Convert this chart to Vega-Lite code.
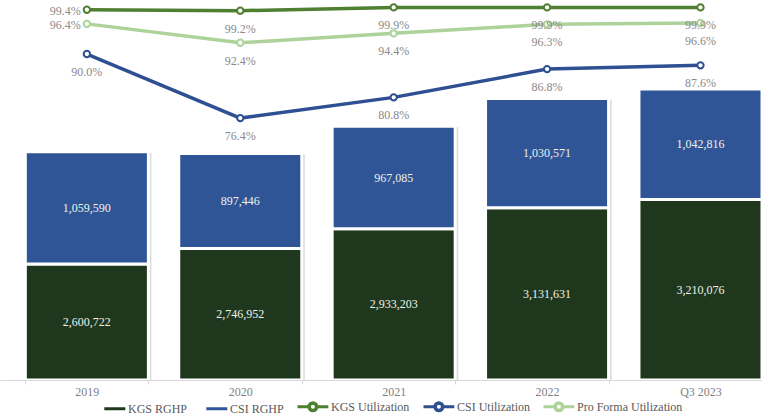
{
  "$schema": "https://vega.github.io/schema/vega-lite/v6.json",
  "width": 762,
  "height": 380,
  "padding": {"left": 0, "right": 0, "top": 0, "bottom": 0},
  "background": "white",
  "config": {
    "view": {"stroke": null},
    "font": "Liberation Serif"
  },
  "datasets": {
    "bars": [
      {"year": "2019", "series": "KGS RGHP", "value": 2600722},
      {"year": "2019", "series": "CSI RGHP", "value": 1059590},
      {"year": "2020", "series": "KGS RGHP", "value": 2746952},
      {"year": "2020", "series": "CSI RGHP", "value": 897446},
      {"year": "2021", "series": "KGS RGHP", "value": 2933203},
      {"year": "2021", "series": "CSI RGHP", "value": 967085},
      {"year": "2022", "series": "KGS RGHP", "value": 3131631},
      {"year": "2022", "series": "CSI RGHP", "value": 1030571},
      {"year": "Q3 2023", "series": "KGS RGHP", "value": 3210076},
      {"year": "Q3 2023", "series": "CSI RGHP", "value": 1042816}
    ],
    "lines": [
      {"year": "2019", "series": "KGS Utilization", "util": 0.994},
      {"year": "2020", "series": "KGS Utilization", "util": 0.992},
      {"year": "2021", "series": "KGS Utilization", "util": 0.999},
      {"year": "2022", "series": "KGS Utilization", "util": 0.999},
      {"year": "Q3 2023", "series": "KGS Utilization", "util": 0.999},
      {"year": "2019", "series": "CSI Utilization", "util": 0.900},
      {"year": "2020", "series": "CSI Utilization", "util": 0.764},
      {"year": "2021", "series": "CSI Utilization", "util": 0.808},
      {"year": "2022", "series": "CSI Utilization", "util": 0.868},
      {"year": "Q3 2023", "series": "CSI Utilization", "util": 0.876},
      {"year": "2019", "series": "Pro Forma Utilization", "util": 0.964},
      {"year": "2020", "series": "Pro Forma Utilization", "util": 0.924},
      {"year": "2021", "series": "Pro Forma Utilization", "util": 0.944},
      {"year": "2022", "series": "Pro Forma Utilization", "util": 0.963},
      {"year": "Q3 2023", "series": "Pro Forma Utilization", "util": 0.966}
    ]
  },
  "encoding": {
    "x": {
      "field": "year",
      "type": "ordinal",
      "sort": ["2019", "2020", "2021", "2022", "Q3 2023"],
      "scale": {"paddingInner": 0.198, "paddingOuter": 0.0826, "align": 1},
      "axis": {
        "title": null,
        "labelAngle": 0,
        "labelFont": "Liberation Serif",
        "labelFontSize": 12,
        "labelColor": "#7f7f7f",
        "domainColor": "#d9d9d9",
        "tickColor": "#d9d9d9",
        "tickBand": "extent",
        "tickSize": 4,
        "labelPadding": 2
      }
    }
  },
  "layer": [
    {
      "data": {"name": "bars"},
      "encoding": {
        "y": {
          "field": "value",
          "type": "quantitative",
          "stack": "zero",
          "scale": {"domain": [1507000, 5092000], "zero": false, "nice": false, "clamp": true},
          "axis": null
        },
        "order": {"field": "series", "sort": "descending"}
      },
      "layer": [
        {
          "mark": {"type": "bar", "clip": true, "color": "#bdbdbd", "opacity": 0.55, "xOffset": 3, "yOffset": 1},
          "encoding": {"detail": {"field": "series"}}
        },
        {
          "mark": {"type": "bar", "clip": true, "stroke": "white", "strokeWidth": 3},
          "encoding": {
            "color": {
              "field": "series",
              "type": "nominal",
              "scale": {
                "domain": ["KGS RGHP", "CSI RGHP", "KGS Utilization", "CSI Utilization", "Pro Forma Utilization"],
                "range": ["#1f381d", "#2f5597", "#4f7f31", "#2e4f91", "#add39a"]
              },
              "legend": {
                "title": null,
                "orient": "none",
                "legendX": 93,
                "legendY": 398,
                "direction": "horizontal",
                "labelFont": "Liberation Serif",
                "labelFontSize": 12,
                "labelColor": "#595959",
                "symbolSize": 196,
                "symbolStrokeWidth": 3,
                "symbolOpacity": 1,
                "symbolType": {"expr": "indexof(['KGS RGHP','CSI RGHP'], datum.value) >= 0 ? 'M0.4,0H3.4' : 'M-1,0H0.63M1.77,0H3.4M1.77,0A0.57,0.57,0,1,0,0.63,0A0.57,0.57,0,1,0,1.77,0ZM1.7,0A0.5,0.5,0,1,1,0.7,0A0.5,0.5,0,1,1,1.7,0Z'"},
                "columnPadding": 7,
                "labelOffset": 18,
                "padding": 0
              }
            }
          }
        },
        {
          "mark": {"type": "text", "color": "#eef2ea", "fontSize": 12, "font": "Liberation Serif", "baseline": "middle"},
          "encoding": {
            "y": {"field": "value", "type": "quantitative", "stack": "zero", "bandPosition": 0.5},
            "text": {"field": "value", "type": "quantitative", "format": ","},
            "opacity": {"condition": {"test": "datum.series == 'CSI RGHP'", "value": 1}, "value": 0}
          }
        }
      ]
    },
    {
      "data": {"name": "bars"},
      "transform": [{"filter": "datum.series == 'KGS RGHP'"}],
      "mark": {"type": "text", "color": "#eef2ea", "fontSize": 12, "font": "Liberation Serif", "baseline": "middle"},
      "encoding": {
        "y": {
          "field": "value",
          "type": "quantitative",
          "stack": null,
          "scale": {"domain": [1507000, 8677000], "zero": false, "nice": false},
          "axis": null
        },
        "text": {"field": "value", "type": "quantitative", "format": ","}
      }
    },
    {
      "data": {"name": "lines"},
      "encoding": {
        "y": {
          "field": "util",
          "type": "quantitative",
          "scale": {"domain": [0.208, 1.0147], "zero": false, "nice": false},
          "axis": null
        }
      },
      "layer": [
        {
          "mark": {"type": "line", "strokeWidth": 3.5},
          "encoding": {"color": {"field": "series", "type": "nominal", "legend": null}}
        },
        {
          "mark": {"type": "point", "filled": false, "fill": "white", "size": 40, "strokeWidth": 2, "opacity": 1},
          "encoding": {"color": {"field": "series", "type": "nominal", "legend": null}}
        },
        {
          "transform": [{"filter": "datum.year == '2019' && datum.series != 'CSI Utilization'"}],
          "mark": {"type": "text", "align": "right", "baseline": "middle", "dx": -6, "dy": 1, "fontSize": 12, "font": "Liberation Serif", "color": "#8a8a8a"},
          "encoding": {"text": {"field": "util", "type": "quantitative", "format": ".1%"}}
        },
        {
          "transform": [{"filter": "!(datum.year == '2019' && datum.series != 'CSI Utilization')"}],
          "mark": {"type": "text", "align": "center", "baseline": "middle", "dy": 18, "fontSize": 12, "font": "Liberation Serif", "color": "#8a8a8a"},
          "encoding": {"text": {"field": "util", "type": "quantitative", "format": ".1%"}}
        }
      ]
    }
  ],
  "resolve": {"scale": {"y": "independent"}}
}
